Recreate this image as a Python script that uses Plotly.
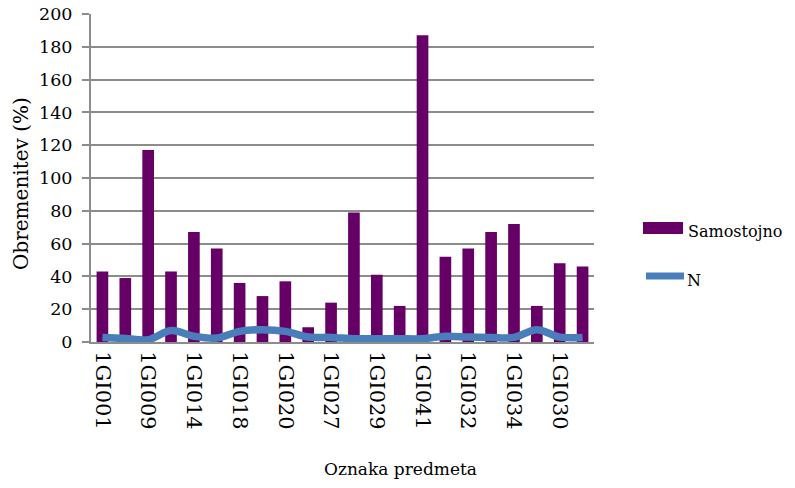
import plotly.graph_objects as go

# ---- data ----
tick_labels = ["1GI001", "1GI009", "1GI014", "1GI018", "1GI020", "1GI027",
               "1GI029", "1GI041", "1GI032", "1GI034", "1GI030"]
samostojno = [43, 39, 117, 43, 67, 57, 36, 28, 37, 9, 24,
              79, 41, 22, 187, 52, 57, 67, 72, 22, 48, 46]
n_values = [2.8, 2.2, 1.4, 7.0, 3.5, 2.4, 6.5, 7.5, 6.5, 3.0, 2.8,
            2.0, 2.0, 2.0, 2.0, 3.5, 3.0, 2.8, 2.8, 7.5, 3.0, 2.8]
series_names = ["Samostojno", "N"]
y_title = "Obremenitev (%)"
x_title = "Oznaka predmeta"

positions = list(range(len(samostojno)))
tick_positions = positions[::2]

BAR = "#660066"
LINE = "#4A7EBB"
GRID = "#8C8C8C"
FONT = "DejaVu Serif"

W, H = 795, 488
L, R, T, B = 91, 201, 14, 146
PW, PH = W - L - R, H - T - B

def px(xp):
    return (xp - L) / PW

def py(yp):
    return (H - B - yp) / PH

fig = go.Figure()
fig.add_trace(go.Bar(x=positions, y=samostojno, name=series_names[0],
                     marker=dict(color=BAR, line=dict(width=0)),
                     showlegend=False))
fig.add_trace(go.Scatter(x=positions, y=n_values, name=series_names[1],
                         mode="lines", line=dict(color=LINE, width=7.5, shape="spline"),
                         showlegend=False))

fig.update_layout(
    width=W, height=H,
    margin=dict(l=L, r=R, t=T, b=B, pad=0, autoexpand=False),
    paper_bgcolor="white", plot_bgcolor="white",
    bargap=0.49,
    font=dict(family=FONT, size=18, color="black"),
    xaxis=dict(range=[-0.5, len(samostojno) - 0.5], automargin=False,
               tickmode="array", tickvals=tick_positions, ticktext=tick_labels,
               tickangle=90, showgrid=False, showline=True, linecolor=GRID,
               linewidth=2, ticks="outside", ticklen=3, tickcolor="rgba(0,0,0,0)",
               tickfont=dict(size=21, family=FONT), zeroline=False),
    yaxis=dict(range=[0, 200], dtick=20, showgrid=True, gridcolor=GRID,
               gridwidth=2, showline=True, linecolor=GRID, linewidth=2,
               automargin=False, ticklabelstandoff=6,
               ticks="outside", ticklen=7, tickcolor=GRID, tickwidth=2,
               tickfont=dict(size=17.5, family=FONT), zeroline=False),
)

# axis titles
fig.add_annotation(text=y_title, xref="paper", yref="paper",
                   x=px(21), y=py(184), textangle=-90, showarrow=False,
                   xanchor="center", yanchor="middle",
                   font=dict(size=20, family=FONT))
fig.add_annotation(text=x_title, xref="paper", yref="paper",
                   x=px(400), y=py(469), showarrow=False,
                   xanchor="center", yanchor="middle",
                   font=dict(size=17, family=FONT))

# custom legend
fig.add_shape(type="rect", xref="paper", yref="paper",
              x0=px(643), x1=px(683), y0=py(234), y1=py(222),
              fillcolor=BAR, line=dict(width=0))
fig.add_shape(type="line", xref="paper", yref="paper",
              x0=px(646), x1=px(684), y0=py(276), y1=py(276),
              line=dict(color=LINE, width=7))
fig.add_annotation(text=series_names[0], xref="paper", yref="paper",
                   x=px(686), y=py(232), showarrow=False,
                   xanchor="left", yanchor="middle",
                   font=dict(size=16, family=FONT))
fig.add_annotation(text=series_names[1], xref="paper", yref="paper",
                   x=px(685), y=py(280), showarrow=False,
                   xanchor="left", yanchor="middle",
                   font=dict(size=16, family=FONT))

fig.write_html("out.html", config={"displayModeBar": False},
               post_script="document.body.style.margin='0';document.body.style.padding='0';")
